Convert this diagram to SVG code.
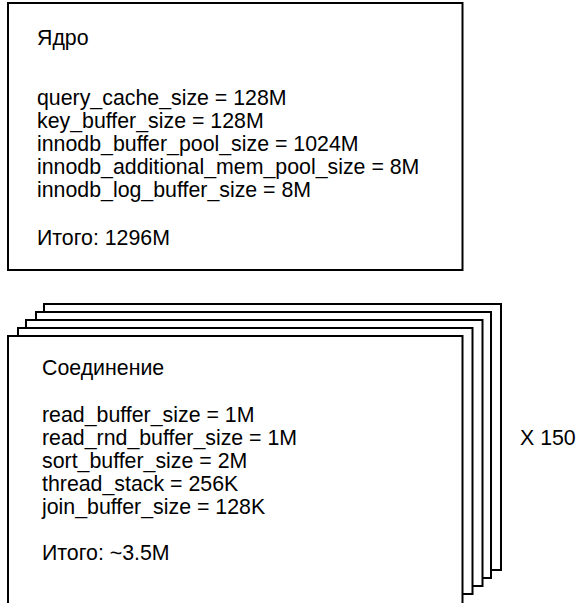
<svg xmlns="http://www.w3.org/2000/svg" width="577" height="603" viewBox="0 0 577 603">
<style>
.box{fill:#fff;stroke:#000;stroke-width:2}
.t{font-family:"Liberation Sans",Arial,sans-serif;font-size:21.33px;fill:#000}
</style>
<rect width="577" height="603" fill="#fff"/>
<g id="core">
<rect class="box" x="8" y="3" width="454.5" height="267"/>
<text class="t" x="37" y="45">Ядро</text>
<text class="t" x="37" y="105">query_cache_size = 128M</text>
<text class="t" x="37" y="128">key_buffer_size = 128M</text>
<text class="t" x="37" y="151">innodb_buffer_pool_size = 1024M</text>
<text class="t" x="37" y="174">innodb_additional_mem_pool_size = 8M</text>
<text class="t" x="37" y="197">innodb_log_buffer_size = 8M</text>
<text class="t" x="37" y="245">Итого: 1296M</text>
</g>
<g id="connections">
<rect class="box" x="44" y="304" width="457" height="266"/>
<rect class="box" x="36" y="312" width="455" height="266"/>
<rect class="box" x="26" y="320" width="456.5" height="266"/>
<rect class="box" x="18" y="328" width="454.5" height="266"/>
<rect class="box" x="8" y="336" width="454.5" height="280"/>
<text class="t" x="42" y="375">Соединение</text>
<text class="t" x="42" y="422">read_buffer_size = 1M</text>
<text class="t" x="42" y="445">read_rnd_buffer_size = 1M</text>
<text class="t" x="42" y="468">sort_buffer_size = 2M</text>
<text class="t" x="42" y="491">thread_stack = 256K</text>
<text class="t" x="42" y="514">join_buffer_size = 128K</text>
<text class="t" x="42" y="560">Итого: ~3.5M</text>
</g>
<g id="multiplier">
<text class="t" x="520" y="445">X 150</text>
</g>
</svg>
